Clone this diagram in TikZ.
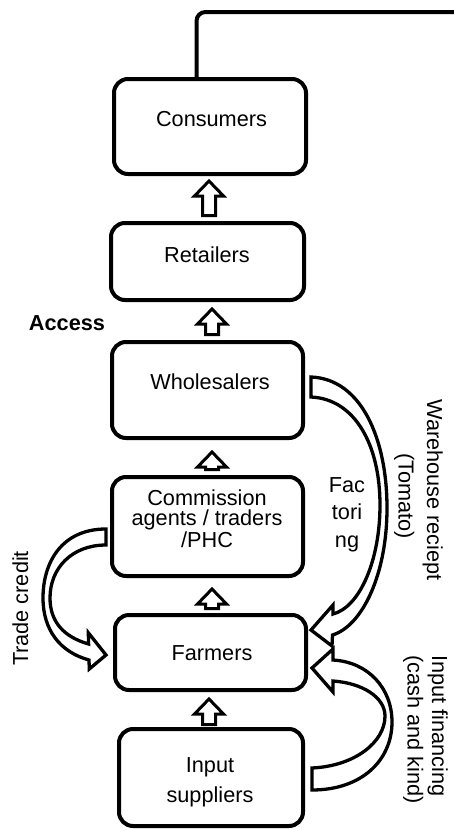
\documentclass[tikz,border=0pt]{standalone}
\usepackage{fontspec}
\setmainfont{Liberation Sans}
\usetikzlibrary{calc}
\tikzset{
  box/.style={draw, line width=4pt, rounded corners=14pt, fill=white, inner sep=0pt},
  lbl/.style={inner sep=0pt, font=\fontsize{21.7}{21.7}\selectfont},
  blk/.style={draw, line width=3pt, fill=white, line join=miter},
  curv/.style={draw, line width=3.3pt, fill=white, line join=miter},
  topline/.style={draw, line width=4pt, rounded corners=9pt},
}
\newcommand\blockarrow[5]{%
  \coordinate (bax) at (#1,0);
  \coordinate (bat) at ($(bax |- #2.south)+(0,#3)$);
  \coordinate (bab) at ($(bax |- #4.north)+(0,-#5)$);
  \draw[blk] (bat) -- ++(14.5,15) -- ++(-8,0) -- ($(bab)+(6.5,0)$) -- ($(bab)+(-6.5,0)$) -- ($(bat)+(-6.5,15)$) -- ++(-8,0) -- cycle;}
\begin{document}
\begin{tikzpicture}[x=1pt,y=-1pt]
\useasboundingbox (0,0) rectangle (453,830);
\fill[white] (0,0) rectangle (453,830);

% boxes
\node[box, minimum width=192pt, minimum height=95pt] (cons) at (210,126.5) {};
\node[box, minimum width=193pt, minimum height=77pt] (ret) at (207.5,261.5) {};
\node[box, minimum width=191pt, minimum height=96pt] (whole) at (207.5,390) {};
\node[box, minimum width=191pt, minimum height=99pt] (comm) at (207.5,526.5) {};
\node[box, minimum width=191pt, minimum height=75pt] (farm) at (210.5,652.5) {};
\node[box, minimum width=184pt, minimum height=97pt] (inp) at (211,777.5) {};

% box texts (base anchor = baseline of the last line)
\node[lbl, anchor=base] (consT) at (211.5,126) {Consumers};
\node[lbl, anchor=base] (retT) at (207,262) {Retailers};
\node[lbl, anchor=base] (wholeT) at (210,389) {Wholesalers};
\node[lbl, anchor=base, align=center, font=\fontsize{21.7}{20}\selectfont] (commT) at (207,547) {Commission\\agents / traders\\/PHC};
\node[lbl, anchor=base] (farmT) at (212,660) {Farmers};
\node[lbl, anchor=base, align=center, font=\fontsize{21.7}{30}\selectfont] (inpT) at (210,802) {Input\\suppliers};
\node[lbl, anchor=base, font=\fontsize{21.7}{21.7}\selectfont\bfseries] (access) at (67,330) {Access};

% top line
\coordinate (lx) at (196.5,0);
\coordinate (topend) at (462,12);
\draw[topline] ($(lx |- cons.north)+(0,2)$) -- (lx |- topend) -- (topend);

% block arrows
\blockarrow{209}{cons}{5}{ret}{5.5}
\blockarrow{212}{ret}{7}{whole}{5.5}
\blockarrow{212}{whole}{12}{comm}{5.5}
\blockarrow{212}{comm}{11}{farm}{4.5}
\blockarrow{209}{farm}{7}{inp}{2.5}

% trade credit arrow
\coordinate (tcA) at ($(comm.west)+(-4,2.5)$);
\coordinate (tcB) at ($(comm.west)+(-4,18.5)$);
\coordinate (tcT) at ($(farm.west)+(-7,2.5)$);
\draw[curv] (tcA) .. controls (62,529) and (43,562) .. (43,598)
  .. controls (43,630) and (60,652) .. (89,660)
  -- (89.3,669) -- (tcT) -- (88.3,632.7) -- (88.6,644)
  .. controls (64,637) and (50,622) .. (50,598)
  .. controls (50,568) and (72,545) .. (tcB) -- cycle;

% warehouse receipt arrow
\coordinate (wrA) at ($(whole.east)+(6,-13)$);
\coordinate (wrB) at ($(whole.east)+(6,7)$);
\coordinate (wrT) at ($(farm.east)+(3,-22.5)$);
\draw[curv] (wrA) .. controls (362,379) and (387,440) .. (387,508)
  .. controls (387,575) and (362,626) .. (332.5,635)
  -- (332,646) -- (wrT) -- (333,605) -- (333,614)
  .. controls (360,607) and (380,560) .. (380,505)
  .. controls (380,445) and (355,399) .. (wrB) -- cycle;

% input financing arrow
\coordinate (ifA) at ($(inp.east)+(7,-9.5)$);
\coordinate (ifB) at ($(inp.east)+(7,12.5)$);
\coordinate (ifT) at ($(farm.east)+(4,15.5)$);
\draw[curv] (ifB) .. controls (362,790) and (392,760) .. (392,722)
  .. controls (392,688) and (368,662) .. (333,660)
  -- (333,649) -- (ifT) -- (333,692) -- (333,681)
  .. controls (362,683) and (385,697) .. (385,716)
  .. controls (385,742) and (355,766) .. (ifA) -- cycle;

% side labels
\node[lbl, rotate=90, anchor=base] (tcL) at (28,608.5) {Trade credit};
\node[lbl, rotate=-90, anchor=base, align=center, font=\fontsize{21.7}{28.5}\selectfont] (wrL) at (398.5,490) {Warehouse reciept\\\hspace*{12pt}(Tomato)};
\node[lbl, rotate=-90, anchor=base west, align=left, font=\fontsize{21.7}{24.5}\selectfont] (ifL) at (407.5,655) {Input financing\\(cash and kind)};
\node[lbl, anchor=base, align=center, font=\fontsize{21.7}{27.5}\selectfont] (facL) at (347,547) {Fac\\tori\\ng};
\end{tikzpicture}
\end{document}
